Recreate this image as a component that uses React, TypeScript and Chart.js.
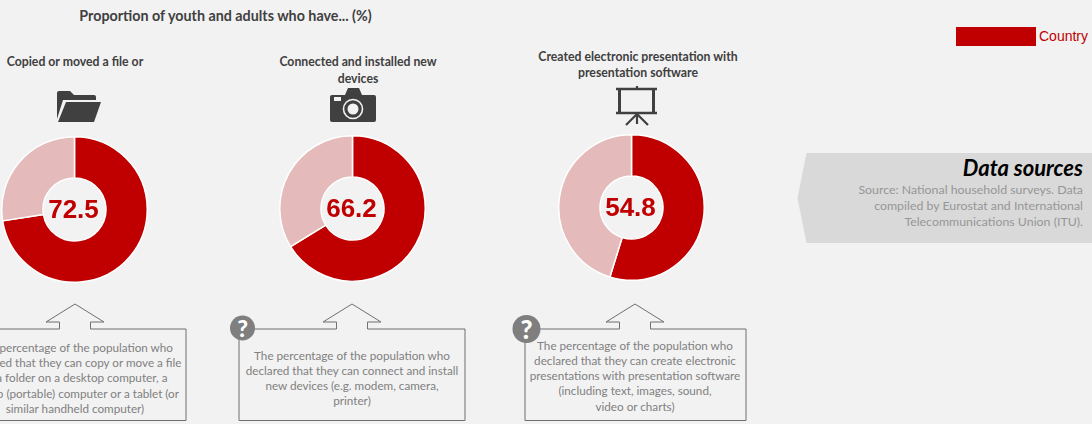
import React, { useEffect, useRef } from "react";
import { Chart, registerables } from "chart.js";

Chart.register(...registerables);

const categories = ["Copied or moved a file or", "Connected and installed new devices", "Created electronic presentation with presentation software"];
const countryValues = [72.5, 66.2, 54.8];
const remainderValues = [27.5, 33.8, 45.2];
const segmentLabels = ["Country", "Remainder"];
const titleLines = [["Copied or moved a file or"], ["Connected and installed new", "devices"], ["Created electronic presentation with", "presentation software"]];
const noteLines = [
  ["The percentage of the population who", "declared that they can copy or move a file", "to a folder on a desktop computer, a", "laptop (portable) computer or a tablet (or", "similar handheld computer)"],
  ["The percentage of the population who", "declared that they can connect and install", "new devices (e.g. modem, camera,", "printer)"],
  ["The percentage of the population who", "declared that they can create electronic", "presentations with presentation software", "(including text, images, sound,", "video or charts)"],
];
const sourceLines = ["Source: National household surveys. Data", "compiled by Eurostat and International", "Telecommunications Union (ITU)."];

const RED = "#c00000";
const PINK = "#e4baba";
const BODY = '"Lato", "Noto Sans", sans-serif';
const ARIAL = '"Liberation Sans", Arial, sans-serif';

const panels = [
  { cx: 74.5, cy: 209.5, titleX: 75, titleYs: [61.5], noteX: 75, noteYs: [346.5, 361.5, 376.5, 392.5, 407.5], boxL: -36, boxR: 186, tip: 75, badge: null as null | number[] },
  { cx: 352, cy: 208, titleX: 358, titleYs: [61.5, 78.5], noteX: 352, noteYs: [354.5, 369.5, 384.5, 399.5], boxL: 239, boxR: 465, tip: 352, badge: [242.5, 328, 12.5] },
  { cx: 631, cy: 207, titleX: 638, titleYs: [56.5, 72.5], noteX: 635, noteYs: [344.5, 359.5, 374.5, 389.5, 405.5], boxL: 525, boxR: 746, tip: 635, badge: [526.5, 329, 14] },
];

const DIAM = 147;

const centerLabel = {
  id: "centerLabel",
  afterDraw(chart: any) {
    const { ctx, chartArea } = chart;
    const v = chart.data.datasets[0].data[0];
    ctx.save();
    ctx.fillStyle = RED;
    ctx.font = `bold 26px ${ARIAL}`;
    ctx.textAlign = "center";
    ctx.textBaseline = "middle";
    ctx.fillText(v.toFixed(1), (chartArea.left + chartArea.right) / 2 - 1, (chartArea.top + chartArea.bottom) / 2 + 1);
    ctx.restore();
  },
};

function Donut({ index }: { index: number }) {
  const ref = useRef<HTMLCanvasElement>(null);
  useEffect(() => {
    const chart = new Chart(ref.current!, {
      type: "doughnut",
      data: {
        labels: segmentLabels,
        datasets: [{
          data: [countryValues[index], remainderValues[index]],
          backgroundColor: [RED, PINK],
          borderColor: "#ffffff",
          borderWidth: 1.5,
        }],
      },
      options: {
        responsive: false,
        animation: false,
        cutout: "43.3%",
        layout: { padding: 0 },
        plugins: { legend: { display: false }, tooltip: { enabled: false } },
      },
      plugins: [centerLabel],
    } as any);
    return () => chart.destroy();
  }, [index]);
  const p = panels[index];
  return (
    <canvas
      ref={ref}
      width={DIAM}
      height={DIAM}
      aria-label={categories[index]}
      style={{ position: "absolute", left: p.cx - DIAM / 2, top: p.cy - DIAM / 2, width: DIAM, height: DIAM }}
    />
  );
}

function Line({ x, y, text, size, color, weight, align, family, italic }: any) {
  const tx = align === "right" ? "-100%" : "-50%";
  return (
    <div style={{
      position: "absolute", left: x, top: y - 10, height: 20, lineHeight: "20px",
      transform: `translateX(${tx})`, whiteSpace: "nowrap", fontSize: size, color,
      fontWeight: weight || 400, fontFamily: family || BODY, fontStyle: italic ? "italic" : "normal",
    }}>{text}</div>
  );
}

function Callout({ p }: { p: (typeof panels)[number] }) {
  const t = p.tip;
  const pts = [
    [p.boxL, 329], [t - 15.5, 329], [t - 15.5, 322], [t - 29, 322], [t, 304],
    [t + 29, 322], [t + 15.5, 322], [t + 15.5, 329], [p.boxR, 329], [p.boxR, 420.5], [p.boxL, 420.5],
  ].map((q) => q.join(",")).join(" ");
  return <polygon points={pts} fill="none" stroke="#6f6f6f" strokeWidth={1} />;
}

export default function App() {
  useEffect(() => {
    document.body.style.margin = "0";
    document.body.style.background = "#f2f2f2";
  }, []);
  return (
    <div style={{ position: "absolute", left: 0, top: 0, width: 1092, height: 424, overflow: "hidden", background: "#f2f2f2" }}>
      <svg width={1092} height={424} style={{ position: "absolute", left: 0, top: 0 }}>
        {panels.map((p, i) => <Callout key={i} p={p} />)}
        {panels.map((p, i) => p.badge && (
          <circle key={i} cx={p.badge[0]} cy={p.badge[1]} r={p.badge[2]} fill="#7f7f7f" />
        ))}
        <polygon points="806.5,153 1092,153 1092,243 806.5,243 797.5,198" fill="#d9d9d9" />
        {/* folder */}
        <path d="M57 93 Q57 91 59 91 H70 L74 95 H94 Q96 95 96 97 V100 H63 L57 119 Z" fill="#404040" />
        <path d="M66 102 H101 L94 122 H58 Z" fill="#404040" />
        {/* camera */}
        <path d="M332 95 H345 L348 88 H359 L362 95 H374 Q376 95 376 97 V120 Q376 122 374 122 H332 Q330 122 330 120 V97 Q330 95 332 95 Z" fill="#404040" />
        <rect x={334} y={97} width={7} height={4} fill="#f2f2f2" />
        <circle cx={353} cy={109} r={9.5} fill="none" stroke="#f2f2f2" strokeWidth={1.6} />
        <circle cx={353} cy={109} r={5.5} fill="#f2f2f2" />
        {/* presentation */}
        <g stroke="#404040" fill="none">
          <path d="M616 89 H657 M616 113 H657" strokeWidth={2.5} />
          <path d="M619.5 89 V113 M653.5 89 V113" strokeWidth={3} />
          <path d="M637 86 V89 M637 113 V124 M637 114 L626 125 M637 114 L648 125" strokeWidth={2.2} />
        </g>
      </svg>

      {panels.map((_, i) => <Donut key={i} index={i} />)}

      <Line x={225.5} y={15.5} text="Proportion of youth and adults who have... (%)" size={14.3} color="#404040" weight={700} />
      {panels.map((p, i) => titleLines[i].map((l, j) => (
        <Line key={`t${i}${j}`} x={p.titleX} y={p.titleYs[j]} text={l} size={12.25} color="#404040" weight={700} />
      )))}
      {panels.map((p, i) => noteLines[i].map((l, j) => (
        <Line key={`n${i}${j}`} x={p.noteX} y={p.noteYs[j]} text={l} size={11.7} color="#808080" />
      )))}
      {panels.map((p, i) => p.badge && (
        <Line key={`b${i}`} x={p.badge[0]} y={p.badge[1]} text="?" size={p.badge[2] * 1.85} color="#ffffff" weight={900} />
      ))}

      <div style={{ position: "absolute", left: 956, top: 27, width: 80, height: 19, background: RED }} />
      <Line x={1039 + 24.5} y={36} text="Country" size={14} color={RED} family={ARIAL} />

      <Line x={1083} y={168} text="Data sources" size={22} color="#000000" weight={700} italic align="right" />
      {sourceLines.map((l, j) => (
        <Line key={j} x={1083} y={190 + j * 16} text={l} size={12.35} color="#969696" align="right" />
      ))}
    </div>
  );
}
